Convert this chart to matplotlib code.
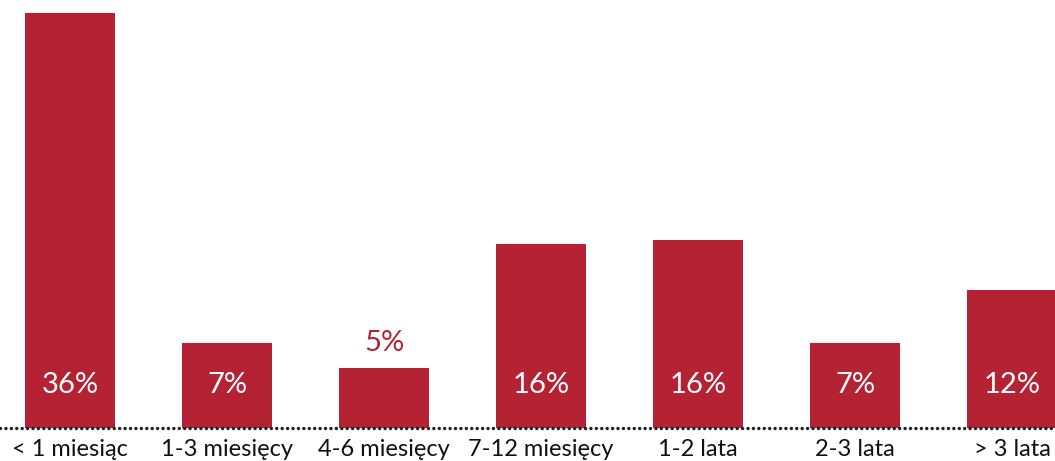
import matplotlib
matplotlib.use("Agg")
import matplotlib.pyplot as plt

categories = ["< 1 miesiąc", "1-3 miesięcy", "4-6 miesięcy", "7-12 miesięcy",
              "1-2 lata", "2-3 lata", "> 3 lata"]
shares = [36, 7.4, 5.2, 16, 16.3, 7.4, 12]
# the 4-6 month share is labelled above its bar, the others inside
outside_label = [False, False, True, False, False, False, False]

bar_color = "#B52234"
plt.rcParams["font.family"] = ["Lato", "DejaVu Sans"]

fig = plt.figure(figsize=(10.55, 4.61), dpi=100)
ax = fig.add_axes([0, 33 / 461, 1, 1 - 33 / 461])

x = list(range(len(categories)))
ax.bar(x, shares, width=0.573, color=bar_color, zorder=2)

for xi, v, out in zip(x, shares, outside_label):
    if out:
        ax.text(xi, v + 2.2, f"{v:.0f}%", ha="center", va="center",
                fontsize=21, color=bar_color)
    else:
        ax.text(xi, 3.75, f"{v:.0f}%", ha="center", va="center",
                fontsize=21, color="white", zorder=3)

ax.axhline(0, color="#222222", linewidth=2.5,
           linestyle=(0, (0.01, 1.55)), dash_capstyle="round", zorder=4,
           clip_on=False)

ax.set_xlim(-70 / 157, (1055 - 70) / 157)
ax.set_ylim(0, 36 + 13 / (415 / 36))
ax.set_yticks([])
ax.set_xticks(x)
ax.set_xticklabels(categories, fontsize=17, color="#111111")
ax.tick_params(axis="x", length=0, pad=8)
for s in ax.spines.values():
    s.set_visible(False)

fig.savefig("out.png", dpi=100)
